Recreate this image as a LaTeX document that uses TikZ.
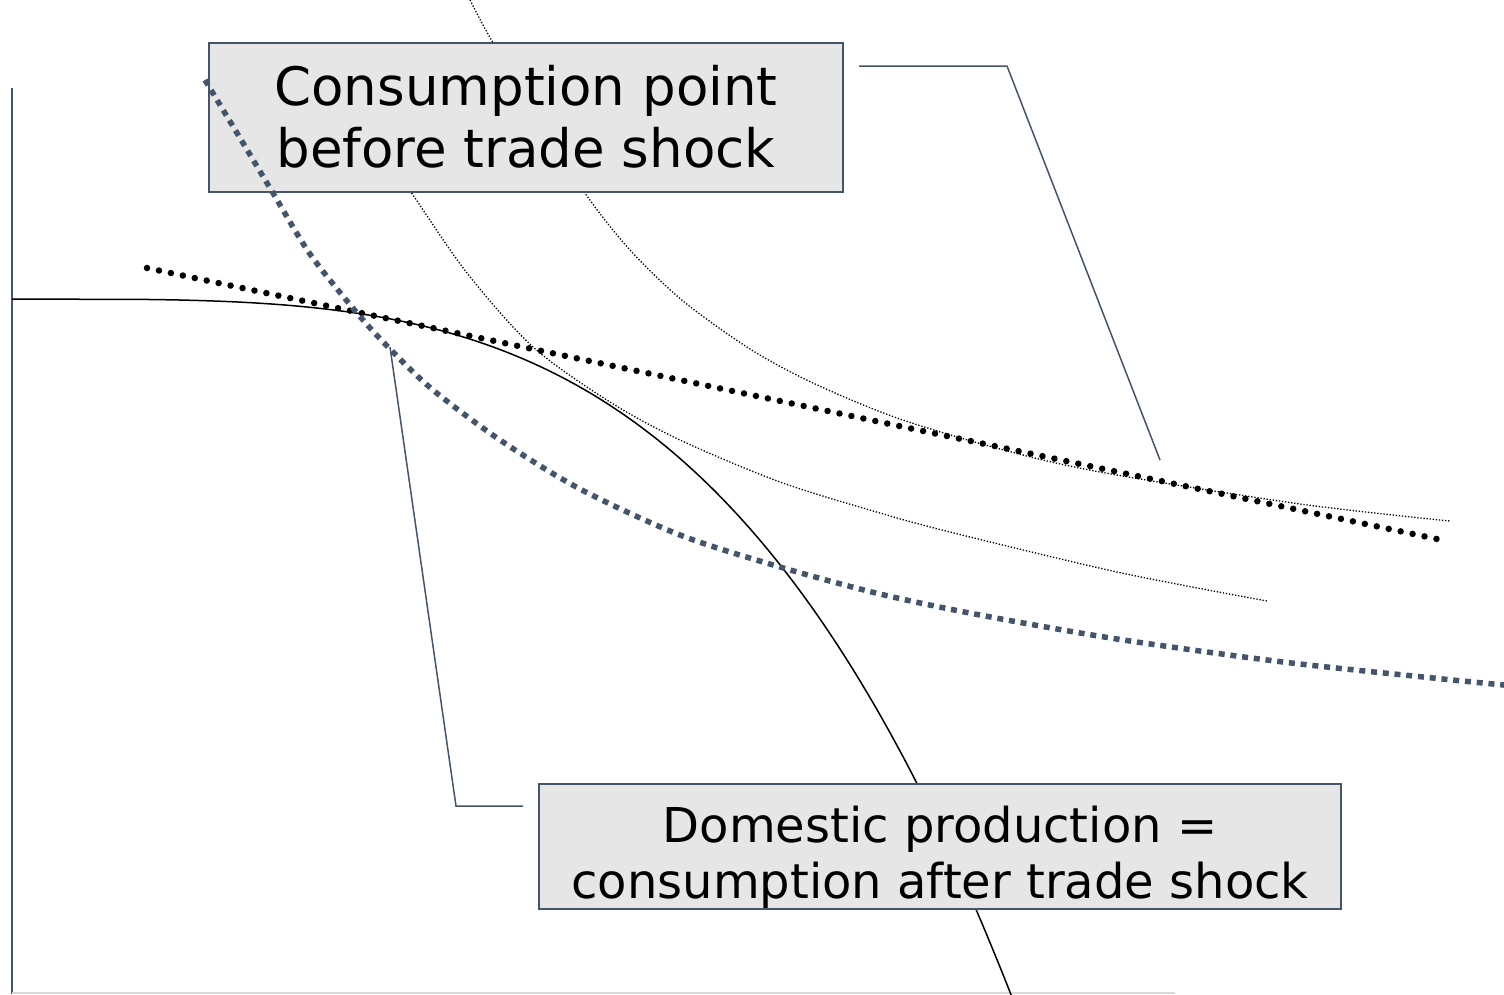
\documentclass[tikz,border=0pt]{standalone}
\usepackage{fontspec}
\setmainfont{DejaVu Sans}
\usetikzlibrary{positioning}
\definecolor{slate}{RGB}{68,84,106}
\definecolor{boxgrey}{RGB}{230,230,230}
\definecolor{axisgrey}{RGB}{217,217,217}

\begin{document}
\begin{tikzpicture}[x=1pt,y=-1pt,
    labelbox/.style={draw=slate, line width=2pt, fill=boxgrey, align=center, inner sep=0pt},
    callout/.style={draw=slate, line width=1.5pt},
    indiff/.style={line width=1.3pt, dash pattern=on 1.3pt off 1.8pt},
    budget/.style={line width=6.5pt, line cap=round, dash pattern=on 0pt off 12.2pt},
    shockline/.style={slate, line width=5.5pt, dash pattern=on 6pt off 5.8pt}]
    \useasboundingbox (0,0) rectangle (1504,994);

    % Axes
    \draw[slate, line width=1.5pt] (12,88) -- (12,994);
    \draw[axisgrey, line width=2pt] (12,993) -- (1175,993);

    % Indifference curves
    \draw[indiff] plot[smooth] coordinates {(470,0) (492,41) (540,118) (585,193) (630,250) (683,301) (750,349) (813,383) (897,418) (1000,449) (1100,472) (1300,504) (1450,521)};
    \draw[indiff] plot[smooth] coordinates {(396,170) (413,195) (467,273) (533,347) (610,402) (680,440) (780,482) (880,513) (950,532) (1117,572) (1267,601)};

    % Production possibility frontier
    \draw[line width=1.5pt] (12,299) -- plot[domain=150:1012, samples=120] (\x, {299+100*pow((\x-12)/588,3.66)});

    % Terms of trade before the shock
    \draw[budget] (147,268) -- (1437,539);

    % Label boxes
    \node[labelbox, minimum width=634pt, minimum height=149pt, text height=99pt, text depth=0pt,
        font=\fontsize{53}{62}\selectfont] (before) at (526,117.5) {Consumption point\\before trade shock};
    \node[labelbox, minimum width=802pt, minimum height=125pt, text height=103pt, text depth=0pt,
        font=\fontsize{48}{56}\selectfont] (after) at (940,846.5) {Domestic production =\\consumption after trade shock};

    % Callouts
    \coordinate (beforeelbow) at (1007,66);
    \coordinate (beforetip) at (1160,460);
    \draw[callout] ([xshift=15pt]before.east |- beforeelbow) -- (beforeelbow) -- (beforetip);
    \coordinate (afterelbow) at (456,806);
    \coordinate (aftertip) at (390,347);
    \draw[callout] ([xshift=-15pt]after.west |- afterelbow) -- (afterelbow) -- (aftertip);

    % Indifference curve after the shock
    \draw[shockline] plot[smooth] coordinates {(205,80) (240,138) (273,193) (310,254) (357,313) (390,349) (433,390) (500,440) (580,489) (680,535) (780,567) (880,594) (980,615) (1117,639) (1283,662) (1443,679) (1504,685)};
\end{tikzpicture}
\end{document}
